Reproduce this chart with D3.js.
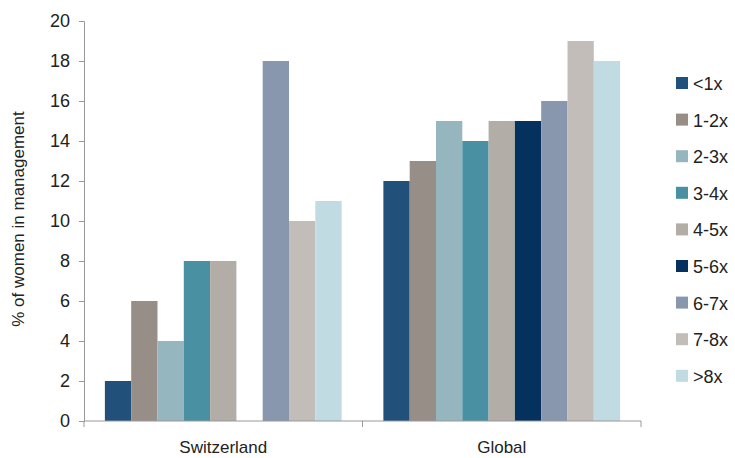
<!DOCTYPE html>
<html>
<head>
<meta charset="utf-8">
<script src="https://cdn.jsdelivr.net/npm/d3@7"></script>
<style>
  body { margin: 0; background: #fff; }
  text { font-family: "Liberation Sans", Arial, sans-serif; fill: #222; }
</style>
</head>
<body>
<div id="chart"></div>
<script>
// Women in management by ratio (chart data)
const regions = ["Switzerland", "Global"];
const ratioBands = ["<1x", "1-2x", "2-3x", "3-4x", "4-5x", "5-6x", "6-7x", "7-8x", ">8x"];
const switzerlandValues = [2, 6, 4, 8, 8, 0, 18, 10, 11];
const globalValues = [12, 13, 15, 14, 15, 15, 16, 19, 18];
const bandColors = ["#21507a", "#978e88", "#95b6bf", "#4a90a3", "#b2ada7", "#05315e", "#8897ad", "#c3bdb9", "#c0dbe1"];
const yTicks = [0, 2, 4, 6, 8, 10, 12, 14, 16, 18, 20];

const W = 735, H = 458;
const margin = {top: 21, right: 94, bottom: 37, left: 84};
const width = W - margin.left - margin.right;
const height = H - margin.top - margin.bottom;

const svg = d3.select("#chart")
    .append("svg")
    .attr("width", W)
    .attr("height", H)
    .append("g")
    .attr("transform", `translate(${margin.left},${margin.top})`);

const rows = regions.map((r, i) => ({
    region: r,
    values: i === 0 ? switzerlandValues : globalValues
}));

const x0 = d3.scaleBand().domain(regions).range([0, width]);
const pad = x0.bandwidth() * 0.075;
const x1 = d3.scaleBand().domain(ratioBands).range([pad, x0.bandwidth() - pad]);
const y = d3.scaleLinear().domain([0, 20]).range([height, 0]);
const color = d3.scaleOrdinal().domain(ratioBands).range(bandColors);

// Bars
svg.selectAll(".group")
    .data(rows)
    .enter()
    .append("g")
    .attr("transform", d => `translate(${x0(d.region)},0)`)
    .selectAll("rect")
    .data(d => d.values.map((v, j) => ({band: ratioBands[j], value: v})).filter(d => d.value > 0))
    .enter()
    .append("rect")
    .attr("x", d => x1(d.band))
    .attr("width", x1.bandwidth())
    .attr("y", d => y(d.value))
    .attr("height", d => height - y(d.value))
    .attr("fill", d => color(d.band));

// Y axis
const yAxis = svg.append("g")
    .call(d3.axisLeft(y).tickValues(yTicks).tickSize(5).tickPadding(9));
yAxis.select(".domain").attr("stroke", "#999");
yAxis.selectAll(".tick line").attr("stroke", "#999");
yAxis.selectAll(".tick text").style("font-size", "18px").attr("fill", "#222");

// X axis with ticks at category boundaries
const xAxis = svg.append("g").attr("transform", `translate(0,${height})`);
xAxis.append("line")
    .attr("x1", 0).attr("x2", width)
    .attr("stroke", "#999");
const bounds = [0, ...regions.map(r => x0(r) + x0.bandwidth())];
xAxis.selectAll(".bt")
    .data(bounds)
    .enter()
    .append("line")
    .attr("x1", d => d).attr("x2", d => d)
    .attr("y1", 0).attr("y2", 6)
    .attr("stroke", "#999");
xAxis.selectAll(".cat")
    .data(regions)
    .enter()
    .append("text")
    .attr("x", d => x0(d) + x0.bandwidth() / 2)
    .attr("y", 32)
    .attr("text-anchor", "middle")
    .style("font-size", "17px")
    .text(d => d);

// Y axis label
svg.append("text")
    .attr("transform", "rotate(-90)")
    .attr("x", -height / 2 + 2)
    .attr("y", -margin.left + 24)
    .attr("text-anchor", "middle")
    .style("font-size", "17px")
    .text("% of women in management");

// Legend
const legend = svg.append("g")
    .attr("transform", `translate(${width + 35},${83 - margin.top})`);
const item = legend.selectAll(".item")
    .data(ratioBands)
    .enter()
    .append("g")
    .attr("transform", (d, i) => `translate(0,${i * 36.6})`);
item.append("rect")
    .attr("x", 0).attr("y", -6)
    .attr("width", 12).attr("height", 12)
    .attr("fill", d => color(d));
item.append("text")
    .attr("x", 17)
    .attr("y", 7)
    .style("font-size", "18px")
    .text(d => d);
</script>
</body>
</html>
